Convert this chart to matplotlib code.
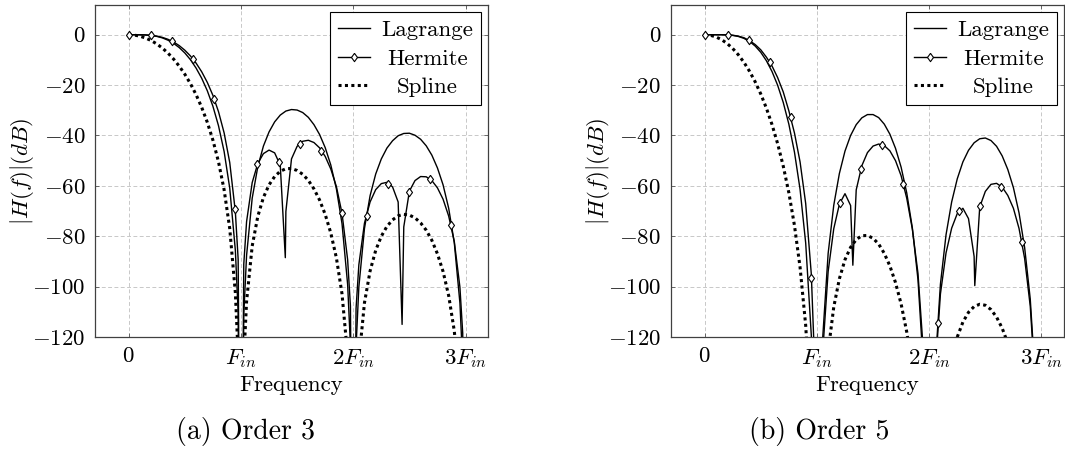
import matplotlib
matplotlib.use('Agg')
import matplotlib.pyplot as plt
from matplotlib.lines import Line2D

# frequency axis in units of F_in (shared by Lagrange and Spline curves)
freq = [0, 0.05, 0.1, 0.15, 0.2, 0.25, 0.3, 0.35, 0.4, 0.45, 0.5, 0.55, 0.6, 0.65, 0.7,
        0.75, 0.8, 0.85, 0.9, 0.95, 0.975, 1.0, 1.025, 1.05, 1.1, 1.15, 1.2, 1.25, 1.3,
        1.35, 1.4, 1.45, 1.5, 1.55, 1.6, 1.65, 1.7, 1.75, 1.8, 1.85, 1.9, 1.95, 1.975,
        2.0, 2.025, 2.05, 2.1, 2.15, 2.2, 2.25, 2.3, 2.35, 2.4, 2.45, 2.5, 2.55, 2.6,
        2.65, 2.7, 2.75, 2.8, 2.85, 2.9, 2.95, 2.975, 3.0]

# ---- order 3 ----
lag3 = [0, 0.0, -0.02, -0.10, -0.29, -0.66, -1.26, -2.17, -3.43, -5.10, -7.24, -9.91,
        -13.22, -17.26, -22.22, -28.38, -36.14, -46.36, -60.89, -85.6, -110.1, -250,
        -111.1, -87.6, -64.9, -52.4, -44.2, -38.6, -34.6, -31.9, -30.3, -29.7, -29.9,
        -30.9, -32.8, -35.7, -39.6, -44.8, -51.7, -61.2, -75.0, -99.1, -123.3, -250,
        -123.8, -100.1, -76.9, -63.9, -55.3, -49.3, -45.0, -42.1, -40.1, -39.2, -39.1,
        -39.9, -41.5, -44.1, -47.8, -52.9, -59.6, -68.9, -82.6, -106.5, -130.6, -250]
spl3 = [0, -0.14, -0.58, -1.30, -2.32, -3.65, -5.30, -7.30, -9.68, -12.46, -15.69, -19.43,
        -23.77, -28.81, -34.74, -41.82, -50.48, -61.56, -76.92, -102.4, -127.3, -250,
        -129.1, -105.9, -83.9, -72.1, -64.6, -59.6, -56.3, -54.2, -53.2, -53.1, -53.9,
        -55.4, -57.8, -61.2, -65.6, -71.3, -78.7, -88.6, -102.9, -127.4, -151.8, -250,
        -152.7, -129.2, -106.4, -93.8, -85.6, -80.0, -76.1, -73.5, -71.9, -71.3, -71.6,
        -72.7, -74.7, -77.6, -81.6, -87.0, -94.0, -103.6, -117.6, -141.8, -166.1, -250]
herm3_f = [0, 0.05, 0.1, 0.15, 0.2, 0.25, 0.3, 0.35, 0.4, 0.45, 0.5, 0.55, 0.6, 0.65, 0.7,
           0.75, 0.8, 0.85, 0.9, 0.95, 0.975, 1.0, 1.025, 1.05, 1.1, 1.15, 1.2, 1.25, 1.3,
           1.35, 1.395, 1.4, 1.45, 1.5, 1.55, 1.6, 1.65, 1.7, 1.75, 1.8, 1.85, 1.9, 1.95,
           1.975, 2.0, 2.025, 2.05, 2.1, 2.15, 2.2, 2.25, 2.3, 2.35, 2.4, 2.435, 2.45, 2.5,
           2.55, 2.6, 2.65, 2.7, 2.75, 2.8, 2.85, 2.9, 2.95, 2.975, 3.0]
herm3_db = [0, 0.0, -0.02, -0.08, -0.24, -0.55, -1.06, -1.82, -2.90, -4.32, -6.15, -8.43,
            -11.25, -14.69, -18.90, -24.07, -30.55, -38.97, -50.72, -70.25, -89.2, -250,
            -91.1, -74.2, -58.7, -51.1, -47.2, -45.8, -46.9, -51.8, -88.5, -70.2, -49.3,
            -44.3, -42.3, -41.9, -42.8, -44.9, -48.3, -53.3, -60.3, -70.9, -89.3, -107.7,
            -250, -108.7, -91.3, -74.8, -66.4, -61.5, -59.1, -58.6, -60.4, -66.4, -115.0,
            -76.3, -62.1, -57.9, -56.3, -56.4, -57.9, -60.8, -65.3, -72.0, -82.1, -100.2,
            -118.5, -250]
herm3_mark_f = [0, 0.20, 0.388, 0.572, 0.76, 0.945, 1.147, 1.335, 1.525, 1.713, 1.90,
                2.12, 2.306, 2.494, 2.68, 2.87]
herm3_mark_db = [0, -0.3, -2.5, -9.8, -25.5, -69.0, -51.4, -50.5, -43.2, -46.0, -70.9,
                 -71.8, -59.3, -62.3, -57.3, -75.5]

# ---- order 5 ----
lag5 = [0, 0.0, 0.0, -0.01, -0.08, -0.27, -0.69, -1.45, -2.68, -4.49, -6.99, -10.32,
        -14.60, -20.03, -26.87, -35.49, -46.59, -61.40, -82.68, -119.3, -155.8, -300,
        -156.9, -121.4, -86.8, -67.7, -55.1, -46.2, -40.0, -35.7, -33.0, -31.7, -31.7,
        -32.9, -35.5, -39.5, -45.1, -52.6, -62.8, -76.7, -97.2, -133.2, -169.4, -300,
        -169.9, -134.1, -99.0, -79.4, -66.4, -57.2, -50.5, -45.9, -42.9, -41.3, -41.0,
        -42.0, -44.3, -48.1, -53.5, -60.7, -70.7, -84.5, -104.9, -140.6, -176.7, -300]
spl5 = [0, -0.21, -0.86, -1.94, -3.47, -5.47, -7.96, -10.96, -14.52, -18.69, -23.53,
        -29.15, -35.65, -43.22, -52.12, -62.72, -75.72, -92.34, -115.37, -153.7, -191.0,
        -300, -193.6, -158.9, -125.8, -108.1, -96.9, -89.3, -84.4, -81.3, -79.8, -79.7,
        -80.8, -83.1, -86.8, -91.8, -98.4, -106.9, -118.0, -132.9, -154.3, -191.1, -227.8,
        -300, -229.1, -193.7, -159.5, -140.7, -128.4, -120.0, -114.1, -110.2, -107.9,
        -107.0, -107.4, -109.1, -112.1, -116.5, -122.5, -130.4, -141.0, -155.4, -176.4,
        -212.7, -249.1, -300]
herm5_f = [0, 0.05, 0.1, 0.15, 0.2, 0.25, 0.3, 0.35, 0.4, 0.45, 0.5, 0.55, 0.6, 0.65, 0.7,
           0.75, 0.8, 0.85, 0.9, 0.95, 0.975, 1.0, 1.025, 1.05, 1.1, 1.15, 1.2, 1.25, 1.3,
           1.32, 1.35, 1.4, 1.45, 1.5, 1.55, 1.6, 1.65, 1.7, 1.75, 1.8, 1.85, 1.9, 1.95,
           1.975, 2.0, 2.025, 2.05, 2.1, 2.15, 2.2, 2.25, 2.3, 2.35, 2.4, 2.406, 2.45, 2.5,
           2.55, 2.6, 2.65, 2.7, 2.75, 2.8, 2.85, 2.9, 2.95, 2.975, 3.0]
herm5_db = [0, 0.0, 0.0, -0.01, -0.05, -0.2, -0.55, -1.2, -2.35, -3.9, -6.0, -8.9, -12.4,
            -17.0, -22.7, -30.2, -39.0, -50.5, -67.0, -95.0, -125, -250, -160, -127,
            -94.0, -77.0, -67.3, -63.1, -67.8, -91.5, -61.6, -52.0, -46.8, -44.2, -43.4,
            -44.0, -46.1, -50.0, -56.0, -64.9, -77.2, -94.7, -127, -160, -250, -170, -136,
            -102.9, -86.6, -76.8, -71.0, -68.9, -73.0, -88.0, -99.6, -68.4, -62.2, -59.4,
            -59.0, -60.5, -63.8, -68.9, -76.9, -88.8, -107.8, -142.6, -170, -250]
herm5_mark_f = [0, 0.206, 0.392, 0.58, 0.765, 0.95, 1.206, 1.395, 1.583, 1.771, 2.08,
                2.266, 2.451, 2.639, 2.828]
herm5_mark_db = [0, 0.0, -2.1, -10.7, -32.5, -96.7, -66.7, -53.2, -43.9, -59.2, -114.5,
                 -70.1, -68.0, -60.3, -82.4]

yticks = [-120, -100, -80, -60, -40, -20, 0]
xticks = [0, 1, 2, 3]
xtick_labels = ['$0$', '$F_{in}$', '$2F_{in}$', '$3F_{in}$']
legend_labels = ['Lagrange', 'Hermite', 'Spline']

plt.rcParams['font.family'] = 'cmr10'
plt.rcParams['mathtext.fontset'] = 'cm'
plt.rcParams['axes.unicode_minus'] = False

FS = 16.5
LW = 1.0
diamond = [(0, 1), (0.72, 0), (0, -1), (-0.72, 0), (0, 1)]
mark_style = dict(marker=diamond, markersize=6.0, markerfacecolor='white',
                  markeredgecolor='black', markeredgewidth=0.8)
dots = (0, (1, 1.1))


def draw(ax, lag, spl, hf, hdb, mf, mdb):
    ax.plot(freq, lag, color='black', lw=LW, zorder=3)
    ax.plot(hf, hdb, color='black', lw=LW, zorder=3)
    ax.plot(mf, mdb, ls='none', zorder=4, **mark_style)
    ax.plot(freq, spl, color='black', lw=2.2, ls=dots, zorder=3)

    ax.set_xlim(-0.3, 3.2)
    ax.set_ylim(-120, 11.8)
    ax.set_xticks(xticks)
    ax.set_xticklabels(xtick_labels)
    ax.set_yticks(yticks)
    ax.set_yticklabels(['$%d$' % v for v in yticks])
    ax.tick_params(labelsize=FS, direction='in', length=3, width=0.6,
                   color='#555555', top=True, right=True, pad=7)
    ax.grid(True, color='#c8c8c8', lw=0.7, ls=(0, (4, 2.5)))
    ax.set_axisbelow(True)
    for s in ax.spines.values():
        s.set_color('#404040')
        s.set_linewidth(0.9)

    ax.set_xlabel('Frequency', fontsize=FS)
    ax.xaxis.label.set_va('center')
    ax.xaxis.set_label_coords(0.5, -0.145)
    ax.set_ylabel('$|H(f)|(dB)$', fontsize=FS)
    ax.yaxis.label.set_va('center')
    ax.yaxis.set_label_coords(-0.186, 0.5)

    handles = [Line2D([], [], color='black', lw=LW),
               Line2D([], [], color='black', lw=LW, **mark_style),
               Line2D([], [], color='black', lw=2.2, ls=dots)]
    leg = ax.legend(handles, legend_labels, loc='upper right',
                    fontsize=FS, fancybox=False, framealpha=1, edgecolor='black',
                    borderaxespad=0.3, borderpad=0.35, handlelength=1.4,
                    handletextpad=0.5, labelspacing=0.38)
    leg.get_frame().set_linewidth(0.8)
    return leg


fig = plt.figure(figsize=(10.65, 4.5), dpi=100)
ax_a = fig.add_axes([0.0892, 0.2511, 0.3690, 0.7378])
ax_b = fig.add_axes([0.6300, 0.2511, 0.3690, 0.7378])

legs = [draw(ax_a, lag3, spl3, herm3_f, herm3_db, herm3_mark_f, herm3_mark_db),
        draw(ax_b, lag5, spl5, herm5_f, herm5_db, herm5_mark_f, herm5_mark_db)]

fig.text(245 / 1065, 1 - 432 / 450, '(a) Order 3', ha='center', va='center', fontsize=20)
fig.text(819 / 1065, 1 - 432 / 450, '(b) Order 5', ha='center', va='center', fontsize=20)

# centre the legend labels in their column, as pgfplots does
fig.canvas.draw()
renderer = fig.canvas.get_renderer()
for leg in legs:
    widths = [t.get_window_extent(renderer).width for t in leg.get_texts()]
    column = leg._legend_handle_box.get_children()[0]
    for item, w in zip(column.get_children(), widths):
        item.sep += (max(widths) - w) / 2 * 72 / fig.dpi

fig.savefig('out.png', dpi=100)
